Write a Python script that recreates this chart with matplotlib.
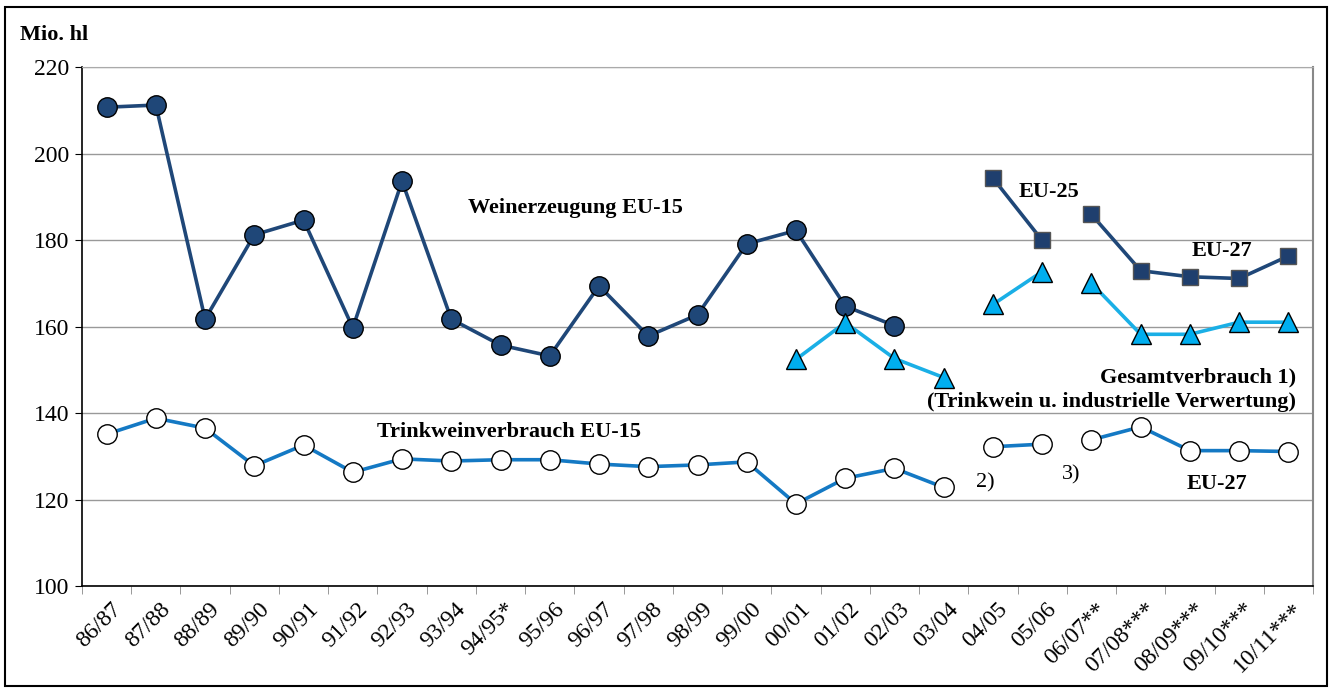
import numpy as np
import matplotlib
matplotlib.use('Agg')
import matplotlib.pyplot as plt
from matplotlib.patches import Rectangle
from matplotlib.transforms import ScaledTranslation

plt.rcParams['font.family'] = ['Liberation Serif', 'DejaVu Serif']

# Wirtschaftsjahre
jahre = ['86/87', '87/88', '88/89', '89/90', '90/91', '91/92', '92/93', '93/94',
         '94/95*', '95/96', '96/97', '97/98', '98/99', '99/00', '00/01', '01/02',
         '02/03', '03/04', '04/05', '05/06', '06/07**', '07/08***', '08/09***',
         '09/10***', '10/11***']

# Weinerzeugung (Mio. hl), je Gebietsstand
erzeugung_eu15 = [210.7, 211.2, 161.7, 181.2, 184.6, 159.7, 193.6, 161.7,
                  155.7, 153.2, 169.4, 157.8, 162.7, 179.1, 182.2, 164.7, 160.2]
erzeugung_eu25 = [194.3, 179.9]
erzeugung_eu27 = [185.9, 172.9, 171.5, 171.1, 176.3]

# Gesamtverbrauch (Trinkwein u. industrielle Verwertung)
gesamt_eu15 = [152.4, 160.9, 152.6, 148.2]
gesamt_eu25 = [165.1, 172.7]
gesamt_eu27 = [170.0, 158.2, 158.2, 161.0, 161.0]

# Trinkweinverbrauch
trink_eu15 = [135.1, 138.8, 136.5, 127.8, 132.6, 126.3, 129.4, 128.9,
              129.2, 129.2, 128.2, 127.6, 128.0, 128.7, 119.0, 124.9, 127.2, 122.8]
trink_eu25 = [132.2, 132.8]
trink_eu27 = [133.8, 136.8, 131.3, 131.3, 131.1]

# Startindex der Abschnitte in jahre
start_eu15_erz = 0
start_eu15_ges = 14
start_eu25 = 18
start_eu27 = 20


def pos(start, werte):
    return np.arange(start, start + len(werte))


fig = plt.figure(figsize=(13.31, 6.90), dpi=100)
ax = fig.add_axes([0.0616, 0.1507, 0.9249, 0.7522])

navy = '#1F4778'
hellblau = '#1AAFE6'
mittelblau = '#1479C4'

stil_erz = dict(color=navy, lw=2.6, marker='o', ms=14, mfc='#1F4778', mec='black', mew=1.0, zorder=4)
stil_quad = dict(color=navy, lw=2.6, marker='s', ms=11, mfc='#1F3F6E', mec='#555555', mew=1.0, zorder=4)
stil_ges = dict(color=hellblau, lw=2.6, marker='^', ms=14, mfc='#00AEEF', mec='black', mew=1.0, zorder=4)
stil_trink = dict(color=mittelblau, lw=2.6, marker='o', ms=14, mfc='white', mec='black', mew=1.0, zorder=4)

ax.plot(pos(start_eu15_erz, erzeugung_eu15), erzeugung_eu15, **stil_erz)
ax.plot(pos(start_eu25, erzeugung_eu25), erzeugung_eu25, **stil_quad)
ax.plot(pos(start_eu27, erzeugung_eu27), erzeugung_eu27, **stil_quad)

ax.plot(pos(start_eu15_ges, gesamt_eu15), gesamt_eu15, **stil_ges)
ax.plot(pos(start_eu25, gesamt_eu25), gesamt_eu25, **stil_ges)
ax.plot(pos(start_eu27, gesamt_eu27), gesamt_eu27, **stil_ges)

ax.plot(pos(0, trink_eu15), trink_eu15, **stil_trink)
ax.plot(pos(start_eu25, trink_eu25), trink_eu25, **stil_trink)
ax.plot(pos(start_eu27, trink_eu27), trink_eu27, **stil_trink)

x = np.arange(len(jahre))
ax.set_xlim(-0.5, len(jahre) - 0.5)
ax.set_ylim(100, 220)
ax.set_yticks(range(100, 221, 20))
ax.tick_params(axis='y', labelsize=17, length=5, direction='out', pad=4)
ax.yaxis.grid(True, color='#999999', lw=1.0)
ax.set_axisbelow(True)

ax.set_xticks(x)
ax.set_xticklabels(jahre, rotation=45, ha='right', rotation_mode='anchor', fontsize=17)
ax.tick_params(axis='x', which='major', length=0, pad=9)
ax.set_xticks(np.arange(-0.5, len(jahre)), minor=True)
ax.tick_params(axis='x', which='minor', length=6, color='#888888')

for lab in ax.get_xticklabels():
    lab.set_transform(lab.get_transform() + ScaledTranslation(0.04, 0, fig.dpi_scale_trans))

ax.spines['left'].set_color('black')
ax.spines['bottom'].set_color('black')
ax.spines['left'].set_linewidth(1.2)
ax.spines['bottom'].set_linewidth(1.2)
ax.spines['top'].set_color('#aaaaaa')
ax.spines['right'].set_color('#888888')
ax.spines['right'].set_linewidth(1.5)

bold = dict(fontsize=16, fontweight='bold')
ax.text(9.52, 187.4, 'Weinerzeugung EU-15', ha='center', va='center', **bold)
ax.text(18.53, 191.1, 'EU-25', ha='left', va='center', **bold)
ax.text(22.04, 177.5, 'EU-27', ha='left', va='center', **bold)
ax.text(24.15, 148.3, 'Gesamtverbrauch 1)', ha='right', va='center', **bold)
ax.text(24.15, 142.5, '(Trinkwein u. industrielle Verwertung)', ha='right', va='center', **bold)
ax.text(8.18, 135.6, 'Trinkweinverbrauch EU-15', ha='center', va='center', **bold)
ax.text(21.93, 123.6, 'EU-27', ha='left', va='center', **bold)
ax.text(17.65, 123.8, '2)', ha='left', va='center', fontsize=16)
ax.text(19.4, 125.7, '3)', ha='left', va='center', fontsize=16)

fig.text(0.015, 0.949, 'Mio. hl', ha='left', va='center', fontsize=16, fontweight='bold')

fig.patches.append(Rectangle((0.004, 0.006), 0.993, 0.984, transform=fig.transFigure,
                             fill=False, edgecolor='black', lw=1.5))

fig.savefig('out.png', dpi=100)
